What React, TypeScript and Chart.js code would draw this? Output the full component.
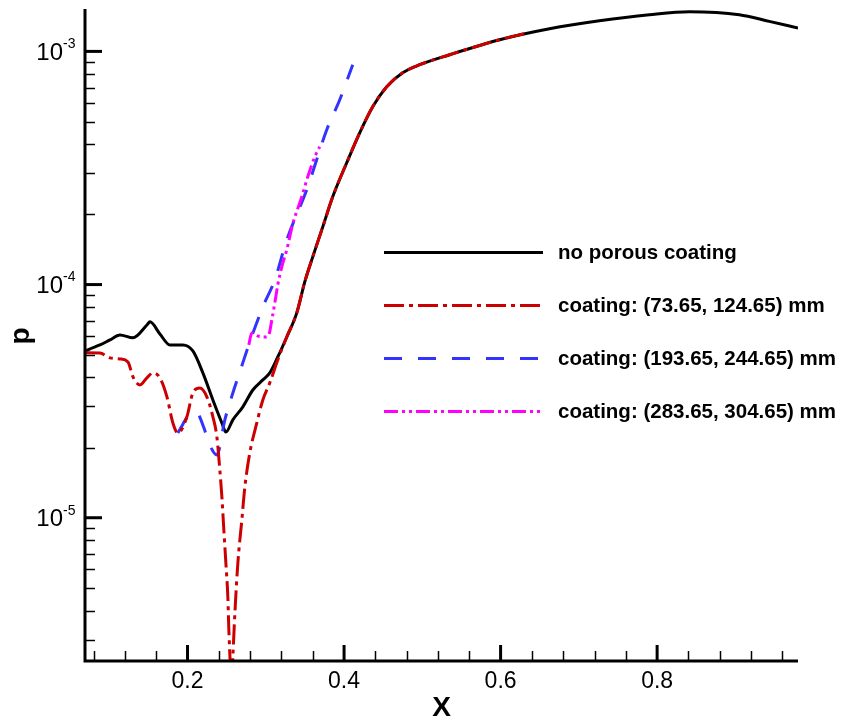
import React, { useEffect, useRef } from 'react';
import { Chart, registerables } from 'chart.js';

Chart.register(...registerables);

const FONT = '"Liberation Sans", Arial, Helvetica, sans-serif';

// ---- axes ----
const X_MIN = 0.069;
const X_MAX = 0.98;
const P_MIN = 2.43e-6;
const P_MAX = 1.52e-3;

const X_MAJOR_TICKS = [0.2, 0.4, 0.6, 0.8];
const X_TICK_LABELS = ['0.2', '0.4', '0.6', '0.8'];
const X_MINOR_TICKS = [0.08, 0.12, 0.16, 0.24, 0.28, 0.32, 0.36, 0.44, 0.48, 0.52, 0.56, 0.64, 0.68, 0.72, 0.76, 0.84, 0.88, 0.92, 0.96];
const Y_MAJOR_TICKS = [1e-5, 1e-4, 1e-3];
const Y_TICK_EXPONENTS = ['-5', '-4', '-3'];
const Y_DECADES = [1e-6, 1e-5, 1e-4, 1e-3];
const Y_MINOR_MULTIPLIERS = [2, 3, 4, 5, 6, 7, 8, 9];

const X_TITLE = 'X';
const Y_TITLE = 'p';

// ---- series ----
const BLACK_X = [0.069, 0.0728, 0.0881, 0.1009, 0.1137, 0.1303, 0.1481, 0.152, 0.1647, 0.1775, 0.1941, 0.2068, 0.2196, 0.2324, 0.2439, 0.249, 0.2579, 0.2707, 0.2834, 0.2962, 0.3051, 0.3153, 0.3268, 0.3396, 0.3498, 0.36, 0.3728, 0.3855, 0.4034, 0.42, 0.4366, 0.4545, 0.4749, 0.4966, 0.5349, 0.5987, 0.6625, 0.7263, 0.7901, 0.8412, 0.905, 0.9433, 0.98];
const BLACK_P = [5.14e-5, 5.25e-5, 5.51e-5, 5.79e-5, 6.08e-5, 5.91e-5, 6.71e-5, 6.92e-5, 6.14e-5, 5.51e-5, 5.51e-5, 5.19e-5, 4.18e-5, 3.2e-5, 2.55e-5, 2.33e-5, 2.63e-5, 2.99e-5, 3.53e-5, 3.9e-5, 4.18e-5, 4.89e-5, 5.96e-5, 7.56e-5, 1.027e-4, 1.315e-4, 1.768e-4, 2.379e-4, 3.329e-4, 4.478e-4, 5.79e-4, 7.056e-4, 8.101e-4, 8.768e-4, 9.678e-4, 1.122e-3, 1.251e-3, 1.354e-3, 1.437e-3, 1.48e-3, 1.437e-3, 1.345e-3, 1.26e-3];

const RED_X = [0.069, 0.0881, 0.1009, 0.1137, 0.1239, 0.1303, 0.1392, 0.1481, 0.1558, 0.1647, 0.1737, 0.1813, 0.1877, 0.1992, 0.2068, 0.2158, 0.2247, 0.2324, 0.2375, 0.2413, 0.2439, 0.2464, 0.249, 0.2515, 0.2528, 0.2564, 0.2579, 0.2605, 0.2643, 0.2694, 0.2732, 0.2796, 0.2885, 0.2962, 0.3051, 0.3153, 0.3268, 0.3396, 0.3498, 0.36, 0.3728, 0.3855, 0.4034, 0.42, 0.4366, 0.4545, 0.4749, 0.4966, 0.5349, 0.5987, 0.6306];
const RED_P = [5.1e-5, 5.09e-5, 4.85e-5, 4.8e-5, 4.66e-5, 4.02e-5, 3.71e-5, 3.98e-5, 4.18e-5, 3.98e-5, 3.3e-5, 2.55e-5, 2.31e-5, 2.71e-5, 3.43e-5, 3.6e-5, 3.3e-5, 2.71e-5, 2.22e-5, 1.6e-5, 1.23e-5, 8.86e-6, 6.39e-6, 4.57e-6, 3.3e-6, 2.0e-6, 2.52e-6, 3.9e-6, 6.39e-6, 9.78e-6, 1.35e-5, 1.9e-5, 2.55e-5, 3.2e-5, 3.79e-5, 4.75e-5, 5.96e-5, 7.56e-5, 1.027e-4, 1.315e-4, 1.768e-4, 2.379e-4, 3.329e-4, 4.478e-4, 5.79e-4, 7.056e-4, 8.101e-4, 8.768e-4, 9.678e-4, 1.122e-3, 1.191e-3];

const BLUE_X = [0.1877, 0.1941, 0.2005, 0.2068, 0.2132, 0.2209, 0.2285, 0.2375, 0.2477, 0.2579, 0.2668, 0.2796, 0.2962, 0.3115, 0.3268, 0.3523, 0.3779, 0.3945, 0.4111];
const BLUE_P = [2.31e-5, 2.52e-5, 2.73e-5, 2.84e-5, 2.79e-5, 2.43e-5, 2.05e-5, 1.86e-5, 2.63e-5, 3.43e-5, 4.22e-5, 5.68e-5, 8.02e-5, 1.047e-4, 1.555e-4, 2.549e-4, 4.612e-4, 6.204e-4, 8.768e-4];

const MAG_X = [0.2783, 0.2821, 0.2898, 0.2987, 0.3038, 0.3077, 0.3115, 0.3153, 0.3204, 0.3268, 0.3345, 0.346, 0.3536, 0.3626, 0.3689];
const MAG_P = [5.51e-5, 6.2e-5, 6.02e-5, 5.96e-5, 6.08e-5, 7.05e-5, 8.34e-5, 9.97e-5, 1.191e-4, 1.409e-4, 1.822e-4, 2.379e-4, 2.9e-4, 3.53e-4, 3.9e-4];

const LABELS = [
  'no porous coating',
  'coating: (73.65, 124.65) mm',
  'coating: (193.65, 244.65) mm',
  'coating: (283.65, 304.65) mm',
];

const SERIES = [
  { label: LABELS[0], xs: BLACK_X, ps: BLACK_P, color: '#000000', dash: [] as number[], order: 3 },
  { label: LABELS[1], xs: RED_X, ps: RED_P, color: '#cc0000', dash: [20, 5, 4, 5], order: 1 },
  { label: LABELS[2], xs: BLUE_X, ps: BLUE_P, color: '#3333ff', dash: [18, 16], order: 2 },
  { label: LABELS[3], xs: MAG_X, ps: MAG_P, color: '#ff00ff', dash: [14, 4, 3, 4, 3, 4], order: 0 },
];

const zip = (xs: number[], ps: number[]) => xs.map((x, i) => ({ x, y: ps[i] }));

const tecplotPlugin = {
  id: 'tecplotAxes',
  afterDraw(chart: any) {
    const { ctx, chartArea: a } = chart;
    const xs = chart.scales.x;
    const ys = chart.scales.y;
    ctx.save();
    ctx.strokeStyle = '#000';
    ctx.fillStyle = '#000';
    ctx.lineCap = 'butt';
    ctx.setLineDash([]);

    const seg = (x1: number, y1: number, x2: number, y2: number) => {
      ctx.beginPath();
      ctx.moveTo(x1, y1);
      ctx.lineTo(x2, y2);
      ctx.stroke();
    };

    // minor ticks
    ctx.lineWidth = 1.5;
    X_MINOR_TICKS.forEach((v) => {
      const px = Math.round(xs.getPixelForValue(v)) + 0.5;
      seg(px, a.bottom, px, a.bottom - 10);
    });
    Y_DECADES.forEach((d) => {
      Y_MINOR_MULTIPLIERS.forEach((m) => {
        const v = d * m;
        if (v <= P_MIN || v >= P_MAX) return;
        const py = Math.round(ys.getPixelForValue(v)) + 0.5;
        seg(a.left, py, a.left + 10, py);
      });
    });

    // major ticks
    ctx.lineWidth = 3;
    X_MAJOR_TICKS.forEach((v) => {
      const px = xs.getPixelForValue(v);
      seg(px, a.bottom, px, a.bottom - 16);
    });
    Y_MAJOR_TICKS.forEach((v) => {
      const py = ys.getPixelForValue(v);
      seg(a.left, py, a.left + 17, py);
    });

    // axis lines
    ctx.lineWidth = 3;
    ctx.lineJoin = 'miter';
    ctx.beginPath();
    ctx.moveTo(a.left, a.top);
    ctx.lineTo(a.left, a.bottom);
    ctx.lineTo(a.right, a.bottom);
    ctx.stroke();

    // x tick labels
    ctx.font = `23px ${FONT}`;
    ctx.textAlign = 'center';
    ctx.textBaseline = 'alphabetic';
    X_MAJOR_TICKS.forEach((v, i) => {
      ctx.fillText(X_TICK_LABELS[i], xs.getPixelForValue(v), a.bottom + 27);
    });

    // y tick labels 10^n
    Y_MAJOR_TICKS.forEach((v, i) => {
      const py = ys.getPixelForValue(v);
      ctx.font = `24px ${FONT}`;
      ctx.textAlign = 'right';
      ctx.fillText('10', a.left - 22, py + 8.5);
      ctx.font = `14px ${FONT}`;
      ctx.textAlign = 'left';
      ctx.fillText(Y_TICK_EXPONENTS[i], a.left - 22, py - 3.2);
    });

    // axis titles
    ctx.font = `bold 28px ${FONT}`;
    ctx.textAlign = 'center';
    ctx.fillText(X_TITLE, (a.left + a.right) / 2, 716);
    ctx.save();
    ctx.translate(29, (a.top + a.bottom) / 2 + 1);
    ctx.rotate(-Math.PI / 2);
    ctx.fillText(Y_TITLE, 0, 0);
    ctx.restore();

    // legend
    const legX1 = 384;
    const legX2 = 543;
    const legTextX = 558;
    const legY0 = 252.5;
    const legStep = 53;
    SERIES.forEach((s, i) => {
      const y = legY0 + i * legStep;
      ctx.strokeStyle = s.color;
      ctx.lineWidth = 3;
      ctx.setLineDash(s.dash);
      seg(legX1, y, legX2, y);
      ctx.setLineDash([]);
      ctx.fillStyle = '#000';
      ctx.font = `bold 20.5px ${FONT}`;
      ctx.textAlign = 'left';
      ctx.fillText(s.label, legTextX, y + 6.8);
    });

    ctx.restore();
  },
};

export default function App() {
  const ref = useRef<HTMLCanvasElement>(null);
  useEffect(() => {
    if (!ref.current) return;
    const chart = new Chart(ref.current, {
      type: 'line',
      data: {
        datasets: SERIES.map((s) => ({
          label: s.label,
          data: zip(s.xs, s.ps),
          borderColor: s.color,
          backgroundColor: s.color,
          borderWidth: 3,
          borderDash: s.dash,
          borderJoinStyle: 'round',
          pointRadius: 0,
          fill: false,
          cubicInterpolationMode: 'monotone',
          order: s.order,
        })),
      } as any,
      options: {
        responsive: false,
        animation: false,
        devicePixelRatio: 1,
        events: [],
        layout: { padding: { left: 85, top: 9, right: 45, bottom: 60 } },
        scales: {
          x: { type: 'linear', min: X_MIN, max: X_MAX, display: false },
          y: { type: 'logarithmic', min: P_MIN, max: P_MAX, display: false },
        },
        plugins: { legend: { display: false }, tooltip: { enabled: false } },
      } as any,
      plugins: [tecplotPlugin],
    });
    return () => chart.destroy();
  }, []);
  return (
    <div style={{ position: 'fixed', left: 0, top: 0, width: 843, height: 721, background: '#fff' }}>
      <canvas ref={ref} width={843} height={721} style={{ display: 'block', width: 843, height: 721 }} />
    </div>
  );
}
